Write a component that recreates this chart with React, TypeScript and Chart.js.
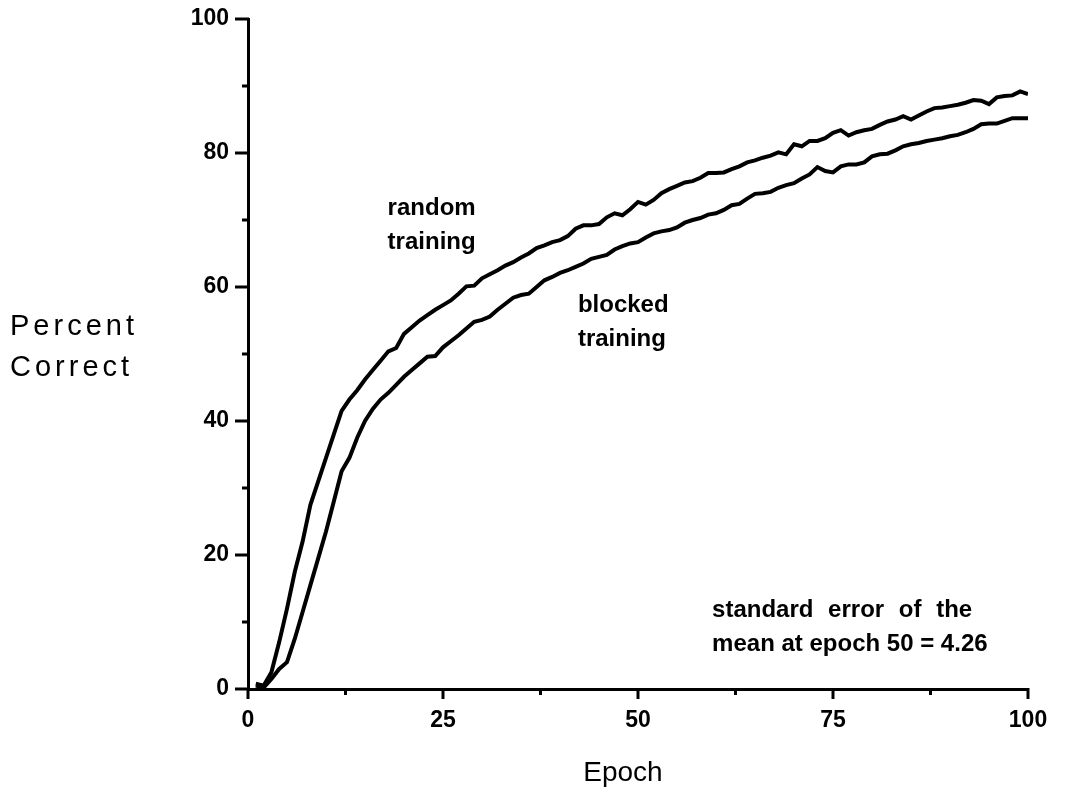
import React, { useEffect, useRef } from "react";
import { Chart, registerables } from "chart.js";

Chart.register(...registerables);

const randomTraining = [
  0.8, 0.5, 2.5, 7, 12, 17.5, 22, 27.5, 31, 34.5,
  38, 41.5, 43.2, 44.6, 46.2, 47.6, 49, 50.4, 50.9, 53,
  54, 55, 55.8, 56.6, 57.3, 58, 59, 60.1, 60.2, 61.3,
  61.9, 62.5, 63.2, 63.7, 64.4, 65, 65.8, 66.2, 66.7, 67,
  67.6, 68.7, 69.2, 69.2, 69.4, 70.4, 71, 70.7, 71.6, 72.7,
  72.3, 73, 74, 74.6, 75.1, 75.6, 75.8, 76.3, 77, 77,
  77.1, 77.6, 78, 78.6, 78.9, 79.3, 79.6, 80.1, 79.8, 81.3,
  81, 81.8, 81.8, 82.2, 83, 83.4, 82.6, 83.1, 83.4, 83.6,
  84.2, 84.7, 85, 85.5, 85, 85.6, 86.2, 86.7, 86.8, 87,
  87.2, 87.5, 87.9, 87.8, 87.3, 88.3, 88.5, 88.6, 89.2, 88.8,
];

const blockedTraining = [
  0.5, 0.2, 1.5, 3, 4, 7.5, 11.5, 15.5, 19.5, 23.5,
  28, 32.5, 34.5, 37.5, 40, 41.8, 43.2, 44.2, 45.4, 46.6,
  47.6, 48.6, 49.6, 49.7, 51, 51.9, 52.8, 53.8, 54.8, 55.1,
  55.6, 56.6, 57.5, 58.4, 58.8, 59, 60, 61, 61.5, 62.1,
  62.5, 63, 63.5, 64.2, 64.5, 64.8, 65.6, 66.1, 66.5, 66.7,
  67.4, 68, 68.3, 68.5, 68.9, 69.6, 70, 70.3, 70.8, 71,
  71.5, 72.2, 72.4, 73.2, 73.9, 74, 74.2, 74.8, 75.2, 75.5,
  76.2, 76.8, 77.9, 77.3, 77.1, 78, 78.3, 78.3, 78.6, 79.5,
  79.8, 79.9, 80.4, 81, 81.3, 81.5, 81.8, 82, 82.2, 82.5,
  82.7, 83.1, 83.6, 84.3, 84.4, 84.4, 84.8, 85.2, 85.2, 85.2,
];

const epochs = randomTraining.map((_, i) => i + 1);

const xTickValues = [0, 12.5, 25, 37.5, 50, 62.5, 75, 87.5, 100];
const xLabelValues = [0, 25, 50, 75, 100];
const yTickValues = [0, 10, 20, 30, 40, 50, 60, 70, 80, 90, 100];
const yLabelValues = [0, 20, 40, 60, 80, 100];

const annotations = [
  { lines: ["random", "training"], epoch: 17.9, value: 71.8, spacing: [0, 0] },
  { lines: ["blocked", "training"], epoch: 42.3, value: 57.3, spacing: [0, 0] },
  { lines: ["standard error of the", "mean at epoch 50 = 4.26"], epoch: 59.5, value: 11.8, spacing: [8, 0] },
];

const FONT = '"Liberation Sans", Arial, Helvetica, sans-serif';

const decorPlugin = {
  id: "decor",
  afterDraw(chart: any) {
    const ctx = chart.ctx as CanvasRenderingContext2D;
    const xs = chart.scales.x;
    const ys = chart.scales.y;
    const area = chart.chartArea;
    ctx.save();
    ctx.strokeStyle = "#000";
    ctx.lineWidth = 3;
    ctx.lineCap = "butt";
    for (const v of yTickValues) {
      const y = ys.getPixelForValue(v);
      const len = yLabelValues.includes(v) ? 13 : 6;
      ctx.beginPath();
      ctx.moveTo(area.left - len, y);
      ctx.lineTo(area.left + 1, y);
      ctx.stroke();
    }
    for (const v of xTickValues) {
      const x = xs.getPixelForValue(v);
      const len = xLabelValues.includes(v) ? 10 : 6;
      ctx.beginPath();
      ctx.moveTo(x, area.bottom - 1);
      ctx.lineTo(x, area.bottom + len);
      ctx.stroke();
    }
    ctx.fillStyle = "#000";
    ctx.textBaseline = "middle";
    ctx.textAlign = "left";
    ctx.font = `bold 24px ${FONT}`;
    for (const a of annotations) {
      const x = xs.getPixelForValue(a.epoch);
      const y = ys.getPixelForValue(a.value);
      a.lines.forEach((t, i) => {
        (ctx as any).wordSpacing = `${a.spacing[i]}px`;
        ctx.fillText(t, x, y + i * 34);
      });
    }
    (ctx as any).wordSpacing = "0px";
    ctx.font = `29px ${FONT}`;
    (ctx as any).letterSpacing = "4px";
    ctx.fillText("Percent", 10, 327);
    ctx.fillText("Correct", 10, 368);
    ctx.textAlign = "center";
    (ctx as any).letterSpacing = "0px";
    ctx.font = `28px ${FONT}`;
    ctx.fillText("Epoch", 623, 773);
    ctx.restore();
  },
};

export default function App() {
  const ref = useRef<HTMLCanvasElement | null>(null);
  useEffect(() => {
    if (!ref.current) return;
    const chart = new Chart(ref.current, {
      type: "line",
      data: {
        datasets: [
          {
            label: "random training",
            data: epochs.map((e, i) => ({ x: e, y: randomTraining[i] })),
            borderColor: "#000",
            borderWidth: 4,
            pointRadius: 0,
            tension: 0,
            fill: false,
          },
          {
            label: "blocked training",
            data: epochs.map((e, i) => ({ x: e, y: blockedTraining[i] })),
            borderColor: "#000",
            borderWidth: 4,
            pointRadius: 0,
            tension: 0,
            fill: false,
          },
        ],
      },
      options: {
        animation: false,
        responsive: false,
        devicePixelRatio: 1,
        layout: { padding: { left: 188, right: 37, top: 19, bottom: 0 } },
        plugins: { legend: { display: false }, tooltip: { enabled: false }, title: { display: false } },
        scales: {
          x: {
            type: "linear",
            min: 0,
            max: 100,
            afterFit: (s: any) => { s.height = 105; s.paddingLeft = 0; s.paddingRight = 0; },
            afterBuildTicks: (s: any) => { s.ticks = xTickValues.map((v) => ({ value: v })); },
            grid: { display: true, drawOnChartArea: false, drawTicks: false },
            border: { display: true, color: "#000", width: 3 },
            ticks: {
              padding: 18,
              maxRotation: 0,
              autoSkip: false,
              color: "#000",
              font: { family: FONT, size: 23, weight: "bold" },
              callback: (v: any) => (xLabelValues.includes(Number(v)) ? String(v) : ""),
            },
          },
          y: {
            type: "linear",
            min: 0,
            max: 100,
            afterFit: (s: any) => { s.width = 60; s.paddingTop = 0; s.paddingBottom = 0; },
            afterBuildTicks: (s: any) => { s.ticks = yTickValues.map((v) => ({ value: v })); },
            grid: { display: true, drawOnChartArea: false, drawTicks: false },
            border: { display: true, color: "#000", width: 3 },
            ticks: {
              padding: 19,
              autoSkip: false,
              color: "#000",
              font: { family: FONT, size: 23, weight: "bold" },
              callback: (v: any) => (yLabelValues.includes(Number(v)) ? String(v) : ""),
            },
          },
        },
      },
      plugins: [decorPlugin],
    });
    return () => chart.destroy();
  }, []);
  return (
    <div style={{ position: "absolute", left: 0, top: 0, width: 1065, height: 794, background: "#fff" }}>
      <canvas ref={ref} width={1065} height={794} style={{ display: "block" }} />
    </div>
  );
}
